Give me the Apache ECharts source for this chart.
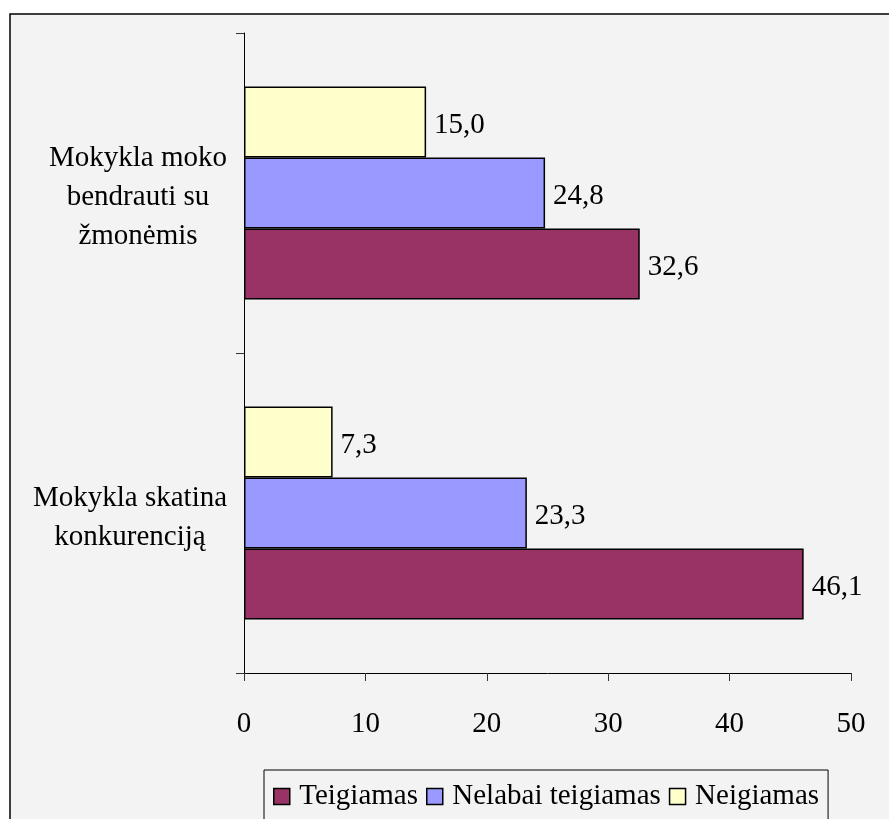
<!DOCTYPE html>
<html>
<head>
<meta charset="utf-8">
<script src="https://cdn.jsdelivr.net/npm/echarts@6/dist/echarts.min.js"></script>
<style>
html,body{margin:0;padding:0;background:#fff;}
#chart{width:889px;height:819px;}
</style>
</head>
<body>
<div id="chart"></div>
<script>
var categories = ['Mokykla moko\nbendrauti su\nžmonėmis', 'Mokykla skatina\nkonkurenciją'];
var seriesNames = ['Teigiamas', 'Nelabai teigiamas', 'Neigiamas'];
var teigiamas = [32.6, 46.1];
var nelabaiTeigiamas = [24.8, 23.3];
var neigiamas = [15.0, 7.3];
var xTicks = { min: 0, max: 50, interval: 10 };

var FONT = '"Liberation Serif", "Times New Roman", serif';
var FS = 29;
var colors = { 'Teigiamas': '#993366', 'Nelabai teigiamas': '#9999FF', 'Neigiamas': '#FFFFCC' };
var dataByName = { 'Teigiamas': teigiamas, 'Nelabai teigiamas': nelabaiTeigiamas, 'Neigiamas': neigiamas };

function fmt(v) { return v.toFixed(1).replace('.', ','); }

// order so that Neigiamas is on top within each group
var drawOrder = ['Neigiamas', 'Nelabai teigiamas', 'Teigiamas'];
var series = drawOrder.map(function (name) {
  return {
    name: name,
    type: 'bar',
    data: dataByName[name],
    barGap: '0%',
    barCategoryGap: '33.5%',
    itemStyle: { color: colors[name], borderColor: '#000', borderWidth: 1.5 },
    label: {
      show: true,
      position: 'right',
      distance: 8,
      offset: [0, 3],
      color: '#000',
      fontFamily: FONT,
      fontSize: FS,
      formatter: function (p) { return fmt(p.value); }
    },
    emphasis: { disabled: true }
  };
});

var chart = echarts.init(document.getElementById('chart'), null, { renderer: 'canvas' });
chart.setOption({
  backgroundColor: '#ffffff',
  animation: false,
  graphic: [{
    type: 'rect',
    z: -10,
    silent: true,
    shape: { x: 10, y: 14, width: 1000, height: 1000 },
    style: { fill: '#f3f3f3', stroke: '#000', lineWidth: 1.5 }
  }],
  grid: { left: 244, right: 38, top: 33, bottom: 146, containLabel: false },
  legend: {
    data: seriesNames,
    left: 264,
    top: 770,
    orient: 'horizontal',
    padding: [12, 9, 10, 9],
    itemGap: 8,
    itemWidth: 25,
    itemHeight: 16,
    icon: 'path://M0,0L10,0L10,10L0,10Z',
    symbolKeepAspect: true,
    borderColor: '#000',
    borderWidth: 1,
    backgroundColor: '#f3f3f3',
    itemStyle: { borderColor: '#000', borderWidth: 1.5 },
    textStyle: { fontFamily: FONT, fontSize: FS, color: '#000' },
    selectedMode: false
  },
  xAxis: {
    type: 'value',
    min: xTicks.min,
    max: xTicks.max,
    interval: xTicks.interval,
    axisLine: { show: true, lineStyle: { color: '#000', width: 1 } },
    axisTick: { show: true, length: 8, inside: false, lineStyle: { color: '#333' } },
    splitLine: { show: false },
    axisLabel: { color: '#000', fontFamily: FONT, fontSize: FS, margin: 37 }
  },
  yAxis: {
    type: 'category',
    data: categories,
    inverse: true,
    axisLine: { show: true, lineStyle: { color: '#000', width: 1 } },
    axisTick: { show: true, length: 8, alignWithLabel: false, lineStyle: { color: '#333' } },
    splitLine: { show: false },
    axisLabel: {
      color: '#000', fontFamily: FONT, fontSize: FS, lineHeight: 39,
      align: 'center', margin: 106, padding: [9, 0, 0, 0],
      formatter: function (value, idx) {
        var tag = idx === 1 ? 'b' : 'a';
        return value.split('\n').map(function (l) { return '{' + tag + '|' + l + '}'; }).join('\n');
      },
      rich: {
        a: { fontFamily: FONT, fontSize: FS, lineHeight: 39, color: '#000' },
        b: { fontFamily: FONT, fontSize: FS, lineHeight: 39, color: '#000', padding: [0, 16, 0, 0] }
      }
    }
  },
  series: series
});
</script>
</body>
</html>
